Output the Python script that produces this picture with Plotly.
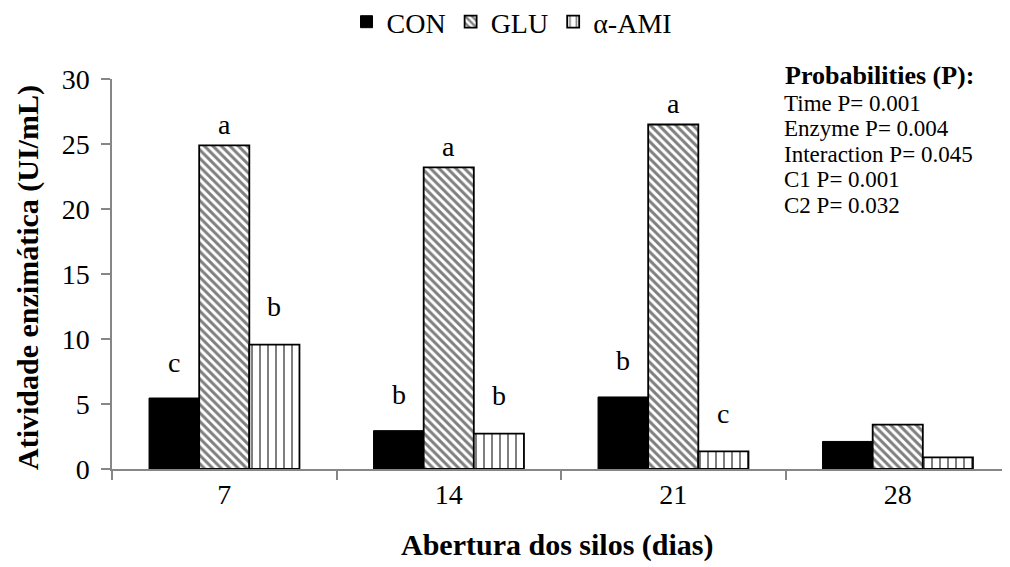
import plotly.graph_objects as go

days = ["7", "14", "21", "28"]
series_names = ["CON", "GLU", "α-AMI"]
con = [5.46, 2.95, 5.54, 2.12]
glu = [24.9, 23.2, 26.5, 3.41]
ami = [9.57, 2.72, 1.35, 0.89]
letters_con = ["c", "b", "b", ""]
letters_glu = ["a", "a", "a", ""]
letters_ami = ["b", "b", "c", ""]
prob_title = "Probabilities (P):"
prob_lines = ["Time P= 0.001", "Enzyme P= 0.004", "Interaction P= 0.045",
              "C1 P= 0.001", "C2 P= 0.032"]

FONT = "Liberation Serif, Times New Roman, serif"
GRAY = "#868686"
OFF = 8  # page body margin
W, H = 1010 - OFF, 567 - OFF
L, R, T, B = 112 - OFF, 0, 79 - OFF, 98
PW, PH = W - L - R, H - T - B

def px_x(x):
    return (x - OFF - L) / PW

def px_y(y):
    return (H - B - (y - OFF)) / PH

fig = go.Figure()
fig.add_trace(go.Bar(
    x=days, y=con, name=series_names[0],
    marker=dict(color="black", line=dict(color="black", width=1)),
))
fig.add_trace(go.Bar(
    x=days, y=glu, name=series_names[1],
    marker=dict(color="white", line=dict(color="black", width=1.8),
                pattern=dict(shape="\\", fgcolor="black", bgcolor="white",
                             size=6, solidity=0.5)),
))
fig.add_trace(go.Bar(
    x=days, y=ami, name=series_names[2],
    marker=dict(color="white", line=dict(color="black", width=1.8),
                pattern=dict(shape="|", fgcolor="black", bgcolor="white",
                             size=8, solidity=0.25)),
))

ann = []
offsets = [-1, 0, 1]
shifts = [36, 21, 38]
for si, (vals, labs) in enumerate([(con, letters_con), (glu, letters_glu), (ami, letters_ami)]):
    for i, (v, lab) in enumerate(zip(vals, labs)):
        if not lab:
            continue
        ann.append(dict(
            x=i + offsets[si] * (1 - 0.33) / 3, y=v, xref="x", yref="y",
            text=lab, showarrow=False, yanchor="middle", yshift=shifts[si],
            font=dict(family=FONT, size=28, color="black"),
        ))

ann.append(dict(
    x=px_x(783), y=px_y(75), xref="paper", yref="paper",
    text="<b>" + prob_title + "</b>", showarrow=False,
    xanchor="left", yanchor="middle",
    font=dict(family=FONT, size=26, color="black"),
))
for k, line in enumerate(prob_lines):
    ann.append(dict(
        x=px_x(783), y=px_y(103 + 25.5 * k), xref="paper", yref="paper",
        text=line, showarrow=False, xanchor="left", yanchor="middle",
        font=dict(family=FONT, size=23, color="black"), borderpad=0,
    ))

ann.append(dict(
    x=px_x(28), y=px_y(278), xref="paper", yref="paper",
    text="<b>Atividade enzimática (UI/mL)</b>", showarrow=False, textangle=-90,
    xanchor="center", yanchor="middle",
    font=dict(family=FONT, size=30, color="black"),
))
ann.append(dict(
    x=px_x(557), y=px_y(545), xref="paper", yref="paper",
    text="<b>Abertura dos silos (dias)</b>", showarrow=False,
    xanchor="center", yanchor="middle",
    font=dict(family=FONT, size=30, color="black"),
))

fig.update_layout(
    width=W, height=H,
    margin=dict(l=L, r=R, t=T, b=B, autoexpand=False),
    paper_bgcolor="white", plot_bgcolor="white",
    barmode="group", bargap=0.33, bargroupgap=0,
    font=dict(family=FONT, size=28, color="black"),
    legend=dict(orientation="h", x=px_x(512), xanchor="center",
                y=px_y(22), yanchor="middle",
                font=dict(family=FONT, size=28), bgcolor="rgba(0,0,0,0)",
                itemwidth=30, tracegroupgap=0),
    annotations=ann,
    showlegend=True,
)
fig.update_xaxes(
    type="category", showline=True, linecolor=GRAY, linewidth=1.5,
    ticks="outside", tickson="boundaries", tickcolor=GRAY, ticklen=9, tickwidth=1.5,
    showgrid=False, tickfont=dict(family=FONT, size=28), automargin=False,
)
fig.update_yaxes(
    range=[0, 30], dtick=5, showline=True, linecolor=GRAY, linewidth=1.5,
    ticks="outside", tickcolor=GRAY, ticklen=9, tickwidth=1.5, ticklabelstandoff=6,
    showgrid=False, zeroline=False, tickfont=dict(family=FONT, size=28), automargin=False,
)

fig.write_html("out.html")
